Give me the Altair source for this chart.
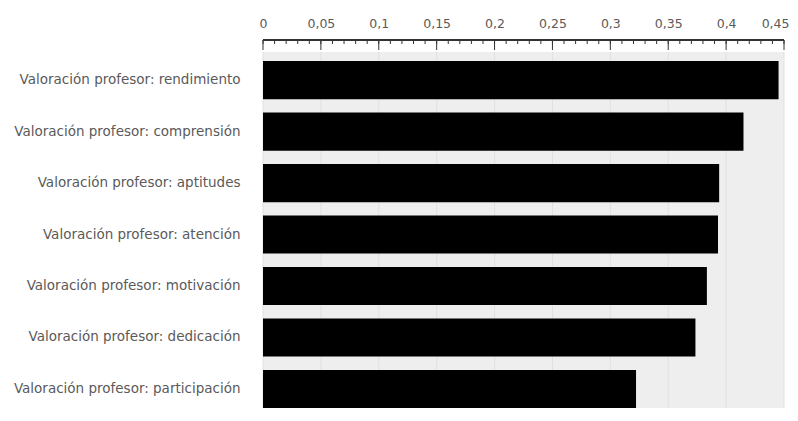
import altair as alt
import pandas as pd

categories = [
    "Valoración profesor: rendimiento",
    "Valoración profesor: comprensión",
    "Valoración profesor: aptitudes",
    "Valoración profesor: atención",
    "Valoración profesor: motivación",
    "Valoración profesor: dedicación",
    "Valoración profesor: participación",
]
values = [0.4453, 0.4150, 0.3940, 0.3930, 0.3834, 0.3735, 0.3222]

major_ticks = [0, 0.05, 0.1, 0.15, 0.2, 0.25, 0.3, 0.35, 0.4, 0.45]
minor_ticks = [round(i * 0.01, 2) for i in range(46)]
x_min, x_max = 0, 0.45

W, H = 521, 368

bars_df = pd.DataFrame({"cat": categories, "val": values})
major_df = pd.DataFrame({"v": major_ticks})
minor_df = pd.DataFrame({"v": minor_ticks})

xscale = alt.Scale(domain=[x_min, x_max], nice=False, zero=True)
xaxis = alt.Axis(
    orient="top", title=None, values=major_ticks, ticks=False, domain=False,
    grid=False, labelFlush=False, labelOverlap=False, labelPadding=10,
    labelFont="DejaVu Sans", labelFontSize=12.5, labelColor="#5a5a5a",
    labelAlign={"condition": {"test": "datum.value >= 0.449", "value": "right"}, "value": "center"},
    labelOffset={"condition": {"test": "datum.value >= 0.449", "value": 5}, "value": 0},
    labelExpr="replace(format(datum.value, '.2~f'), '.', ',')",
)

base = alt.Chart(bars_df)

bg = base.mark_rect(color="#eeeeee").encode(
    x=alt.XDatum(x_min, scale=xscale, axis=xaxis),
    x2=alt.X2Datum(x_max),
    y=alt.value(12),
    y2=alt.value(H),
)

grid = alt.Chart(major_df).mark_rule(color="#e0e0e0", strokeWidth=1).encode(
    x=alt.X("v:Q", scale=xscale, axis=xaxis),
    y=alt.value(12),
    y2=alt.value(H),
)

bars = base.mark_bar(color="black").encode(
    x=alt.X("val:Q", scale=xscale, axis=xaxis),
    y=alt.Y(
        "cat:N", sort=categories,
        scale=alt.Scale(paddingInner=0.26, paddingOuter=0.205, align=1),
        axis=alt.Axis(
            title=None, ticks=False, domain=False, labelPadding=23,
            labelFont="DejaVu Sans", labelFontSize=13.5, labelColor="#5a5a5a",
            labelLimit=0,
        ),
    ),
)

domain_line = base.mark_rule(color="#333", strokeWidth=1).encode(
    x=alt.XDatum(x_min, scale=xscale, axis=xaxis),
    x2=alt.X2Datum(x_max),
    y=alt.value(0),
)

minor = alt.Chart(minor_df).mark_rule(color="#333", strokeWidth=1).encode(
    x=alt.X("v:Q", scale=xscale, axis=xaxis),
    y=alt.value(0),
    y2=alt.value(4),
)

major = alt.Chart(major_df).mark_rule(color="#333", strokeWidth=1).encode(
    x=alt.X("v:Q", scale=xscale, axis=xaxis),
    y=alt.value(0),
    y2=alt.value(10),
)

chart = (
    alt.layer(bg, grid, bars, domain_line, minor, major)
    .properties(
        width=W, height=H,
        autosize=alt.AutoSizeParams(type="none"),
        padding={"left": 255, "top": 32, "right": 6, "bottom": 0},
        background="white",
    )
    .configure_view(stroke=None)
)

chart.save("out.html", embed_options={"renderer": "svg", "actions": False})
